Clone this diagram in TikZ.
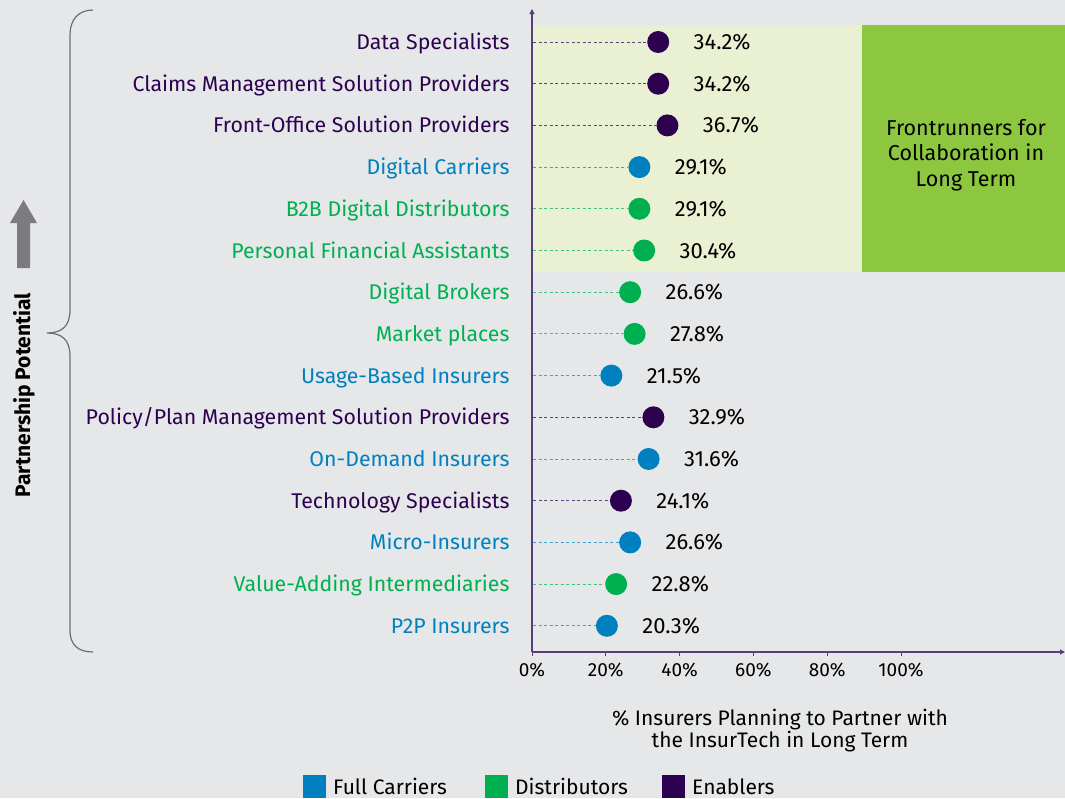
\documentclass[tikz,border=0pt]{standalone}
\usepackage{fontspec}
\setmainfont{Fira Sans}
\usetikzlibrary{arrows.meta}

\begin{document}
\begin{tikzpicture}[x=1pt,y=-1pt,
  catlbl/.style={anchor=base east,font=\fontsize{21.3}{24}\selectfont},
  vallbl/.style={anchor=base west,font=\fontsize{22}{24}\selectfont},
  pdot/.style={circle,fill=#1,minimum size=22,inner sep=0},
  leader/.style={#1!75!white,dashed,dash pattern=on 3pt off 2.5pt,line width=0.9pt},
  legbox/.style={fill=#1},
  leglbl/.style={anchor=base west,inner sep=1pt,font=\fontsize{21}{22}\selectfont}]
\definecolor{bg}{HTML}{E6E7E9}
\definecolor{carr}{HTML}{0080BE}
\definecolor{dist}{HTML}{00B050}
\definecolor{enab}{HTML}{2E0050}
\definecolor{paleg}{HTML}{EAF1D3}
\definecolor{frontg}{HTML}{8DC63F}
\definecolor{axisc}{HTML}{5B3C7E}
\definecolor{bracec}{HTML}{6D6E71}
\useasboundingbox (0,0) rectangle (1065,798);
\fill[bg] (0,0) rectangle (1065,798);
% highlighted zone
\fill[paleg] (532,25) rectangle (862,272);
\fill[frontg] (862,25) rectangle (1065,272);
\node[align=center,font=\fontsize{21.5}{25.5}\selectfont] (front) at (966,155)
  {Frontrunners for\\Collaboration in\\Long Term};
% axes
\coordinate (origin) at (532,652);
\coordinate (ytop) at (532,9);
\coordinate (xend) at (1065,652);
\draw[axisc,line width=1.1pt,-{Triangle[length=5pt,width=5pt]}] (origin) -- (ytop);
\draw[axisc,line width=1.1pt,-{Triangle[length=5pt,width=5pt]}] (origin) -- (xend);
\foreach \p/\t in {0/0,1/20,2/40,3/60,4/80,5/100}
{ \draw[axisc,line width=1pt] (532+73.8*\p,652) -- (532+73.8*\p,656);
  \node[font=\fontsize{19}{20}\selectfont] (tick\p) at (532+73.8*\p,670) {\t\%};}
\node[align=center,font=\fontsize{21}{22}\selectfont] (xtitle) at (780,731)
  {\% Insurers Planning to Partner with\\the InsurTech in Long Term};
% rows
\foreach \i/\lbl/\crlr/\val in {
  1/Data Specialists/enab/34.2,
  2/Claims Management Solution Providers/enab/34.2,
  3/Front-Office Solution Providers/enab/36.7,
  4/Digital Carriers/carr/29.1,
  5/B2B Digital Distributors/dist/29.1,
  6/Personal Financial Assistants/dist/30.4,
  7/Digital Brokers/dist/26.6,
  8/Market places/dist/27.8,
  9/Usage-Based Insurers/carr/21.5,
  10/{Policy/Plan Management Solution Providers}/enab/32.9,
  11/On-Demand Insurers/carr/31.6,
  12/Technology Specialists/enab/24.1,
  13/Micro-Insurers/carr/26.6,
  14/Value-Adding Intermediaries/dist/22.8,
  15/P2P Insurers/carr/20.3}
{ \pgfmathsetmacro\y{42+(\i-1)*41.7}
  \node[catlbl,text=\crlr] (cat\i) at (513,\y+7.5) {\lbl};
  \coordinate (start\i) at (533,\y);
  \node[pdot=\crlr] (dot\i) at (532+3.69*\val,\y) {};
  \draw[leader=\crlr] (start\i) -- (dot\i);
  \node[vallbl] (val\i) at (532+3.69*\val+32,\y+7.5) {\val\%};}
% brace
\draw[bracec,line width=1.2pt] (93,10) .. controls (78,10) and (70,20) .. (70,35)
  -- (70,310) .. controls (70,326) and (62,333) .. (47,333)
  .. controls (62,333) and (70,340) .. (70,356)
  -- (70,630) .. controls (70,645) and (78,652) .. (93,652);
\fill[bracec!90!white] (17,268) -- (30,268) -- (30,223) -- (37,223) -- (23.5,200)
  -- (10,223) -- (17,223) -- cycle;
\node[rotate=90,font=\fontsize{21}{22}\selectfont\bfseries] (potential) at (24,395)
  {Partnership Potential};
% legend
\foreach \crlr/\lbl/\pos in {carr/Full Carriers/303,dist/Distributors/485,enab/Enablers/662}
{ \fill[legbox=\crlr] (\pos,775) rectangle (\pos+23,798);
  \node[leglbl] (leg\crlr) at (\pos+29,794) {\lbl};}
\end{tikzpicture}
\end{document}
